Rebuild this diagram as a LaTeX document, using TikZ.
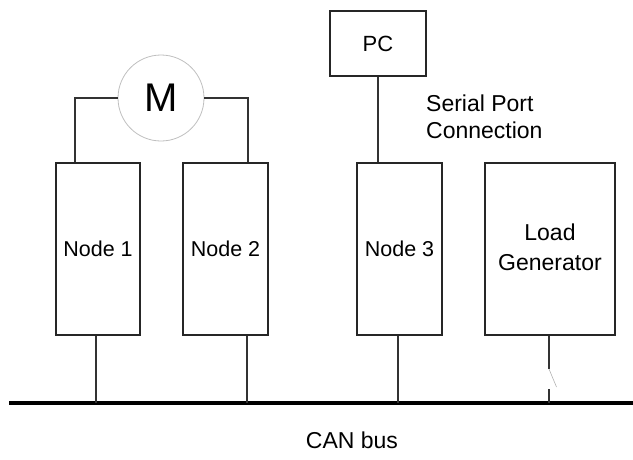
\documentclass[tikz,border=0pt]{standalone}
\usepackage{fontspec}
\setmainfont{Liberation Sans}
\begin{document}
\begin{tikzpicture}[x=1pt,y=-1pt,
  box/.style={draw=black!85, line width=1.4pt, inner sep=0pt, font=\fontsize{21.5}{26}\selectfont, align=center},
  wire/.style={draw=black!80, line width=1.4pt},
  lbl/.style={font=\fontsize{23}{27}\selectfont, inner sep=0pt}]
\useasboundingbox (0,0) rectangle (633,459);
% nodes
\node[box, minimum width=84pt, minimum height=172pt] (n1) at (98,249) {Node 1};
\node[box, minimum width=85pt, minimum height=172pt] (n2) at (225.5,249) {Node 2};
\node[box, minimum width=85pt, minimum height=172pt] (n3) at (399.5,249) {Node 3};
\node[box, minimum width=130pt, minimum height=172pt] (lg) at (550,249) {};
\node[lbl, align=center, font=\fontsize{23}{30}\selectfont] (lgt) at (550,247) {Load\\Generator};
\node[box, minimum width=96pt, minimum height=65pt, font=\fontsize{22}{26}\selectfont] (pc) at (378,43.5) {PC};
\node[circle, draw=black!25, line width=0.8pt, minimum size=86pt, inner sep=0pt,
      font=\fontsize{40}{42}\selectfont] (m) at (161,98) {M};
\node[lbl, align=left, anchor=west] (sp) at (426,117) {Serial Port\\Connection};
\node[lbl] (can) at (352,440) {CAN bus};
% bus
\coordinate (busL) at (9,403);
\coordinate (busR) at (633,403);
\coordinate (b1) at (96,403);
\coordinate (b2) at (247,403);
\coordinate (b3) at (398,403);
\coordinate (b4) at (549,403);
\coordinate (s1) at (549,369);
\coordinate (s2) at (549,389);
\coordinate (s3) at (556.5,387);
\draw[line width=3.5pt, black] (busL) -- (busR);
% drops
\draw[wire] (n1.south -| b1) -- (b1);
\draw[wire] (n2.south -| b2) -- (b2);
\draw[wire] (n3.south -| b3) -- (b3);
\draw[wire] (lg.south -| s1) -- (s1);
\draw[wire] (s2) -- (b4);
\draw[draw=black!30, line width=0.6pt] (s1) -- (s3);
% motor wires
\draw[wire] (m.west) -| ([xshift=-23pt]n1.north);
\draw[wire] (m.east) -| ([xshift=22.5pt]n2.north);
% PC wire
\draw[wire] (pc.south) -- (n3.north -| pc.south);
\end{tikzpicture}
\end{document}
